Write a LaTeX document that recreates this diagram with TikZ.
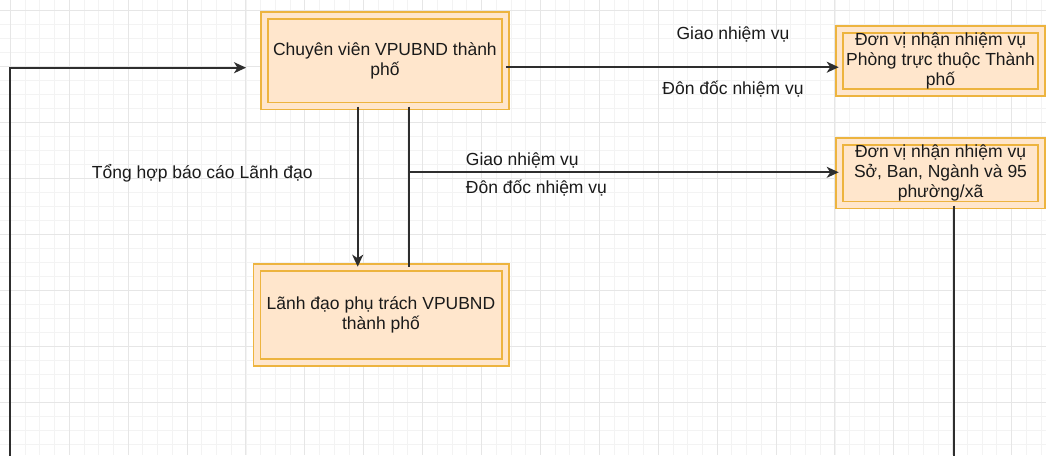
\documentclass[tikz,border=0pt]{standalone}
\usepackage{fontspec}
\setmainfont{Liberation Sans}
\usetikzlibrary{arrows.meta}
\definecolor{boxfill}{HTML}{FFE6CC}
\definecolor{boxline}{HTML}{EDB43F}
\definecolor{conn}{HTML}{2E2E2E}
\definecolor{gridmajor}{HTML}{E6E6E6}
\definecolor{gridminor}{HTML}{F3F3F3}
\definecolor{txt}{HTML}{1A1A1A}
\tikzset{
  box/.style={rectangle, draw=boxline, line width=1.6pt, double=boxfill, double distance=5.4pt,
    fill=boxfill, align=center, inner sep=0pt, text=txt,
    font=\fontsize{17.5}{20}\selectfont},
  conn/.style={draw=conn, line width=1.8pt},
  arr/.style={conn, -{Stealth[length=12pt,width=11pt,inset=3.5pt]}},
  lbl/.style={inner sep=0pt, text=txt, text height=12.5pt, text depth=0pt,
    font=\fontsize{17.5}{20}\selectfont}
}
\begin{document}
\begin{tikzpicture}[x=1pt,y=-1pt]
\useasboundingbox (0,0) rectangle (1046,455);
\fill[white] (0,0) rectangle (1046,455);
% grid
\foreach \k in {-1,...,71} {
  \draw[gridminor, line width=0.8pt] ({10.3+14.725*\k},0) -- ({10.3+14.725*\k},455);
}
\foreach \k in {-1,...,33} {
  \draw[gridminor, line width=0.8pt] (0,{10+14.025*\k}) -- (1046,{10+14.025*\k});
}
\foreach \k in {0,...,18} {
  \draw[gridmajor, line width=1pt] ({10.3+58.9*\k},0) -- ({10.3+58.9*\k},455);
}
\foreach \k in {0,...,8} {
  \draw[gridmajor, line width=1pt] (0,{10+56.1*\k}) -- (1046,{10+56.1*\k});
}
% boxes (path at mid of the double frame, 3.5px inside the outer edge)
\node[box, minimum width=240.7pt, minimum height=90.6pt] (B1) at (384.9,60.5)
  {Chuyên viên VPUBND thành\\phố};
\node[box, minimum width=202pt, minimum height=62.7pt] (B2) at (940.5,60.9)
  {Đơn vị nhận nhiệm vụ\\Phòng trực thuộc Thành\\phố};
\node[box, minimum width=202pt, minimum height=63.6pt] (B3) at (940.5,173)
  {Đơn vị nhận nhiệm vụ\\Sở, Ban, Ngành và 95\\phường/xã};
\node[box, minimum width=248.4pt, minimum height=95pt] (B4) at (381,315)
  {Lãnh đạo phụ trách VPUBND\\thành phố};
% connectors
\coordinate (L0) at (10,470);
\coordinate (Ltip) at (246,67.7);
\draw[arr] (L0) |- (Ltip);
\coordinate (r1) at (0,67.2);
\draw[arr] (B1.east |- r1) -- (B2.west |- r1);
\coordinate (d1) at (357.7,0);
\draw[arr] (B1.south -| d1) -- (B4.north -| d1);
\coordinate (d2) at (409,0);
\draw[conn] (B1.south -| d2) -- (B4.north -| d2);
\coordinate (br) at (409,172.3);
\draw[arr] (br) -- (B3.west |- br);
\coordinate (bot) at (954.3,470);
\draw[conn] (B3.south -| bot) -- (bot);
% labels
\node[lbl] (g1) at (733,33) {Giao nhiệm vụ};
\node[lbl] (o1) at (733,88) {Đôn đốc nhiệm vụ};
\node[lbl, anchor=west] (g2) at (465.7,159) {Giao nhiệm vụ};
\node[lbl, anchor=west] (o2) at (465.7,187.3) {Đôn đốc nhiệm vụ};
\node[lbl, anchor=west] (th) at (91.7,172.7) {Tổng hợp báo cáo Lãnh đạo};
\end{tikzpicture}
\end{document}
